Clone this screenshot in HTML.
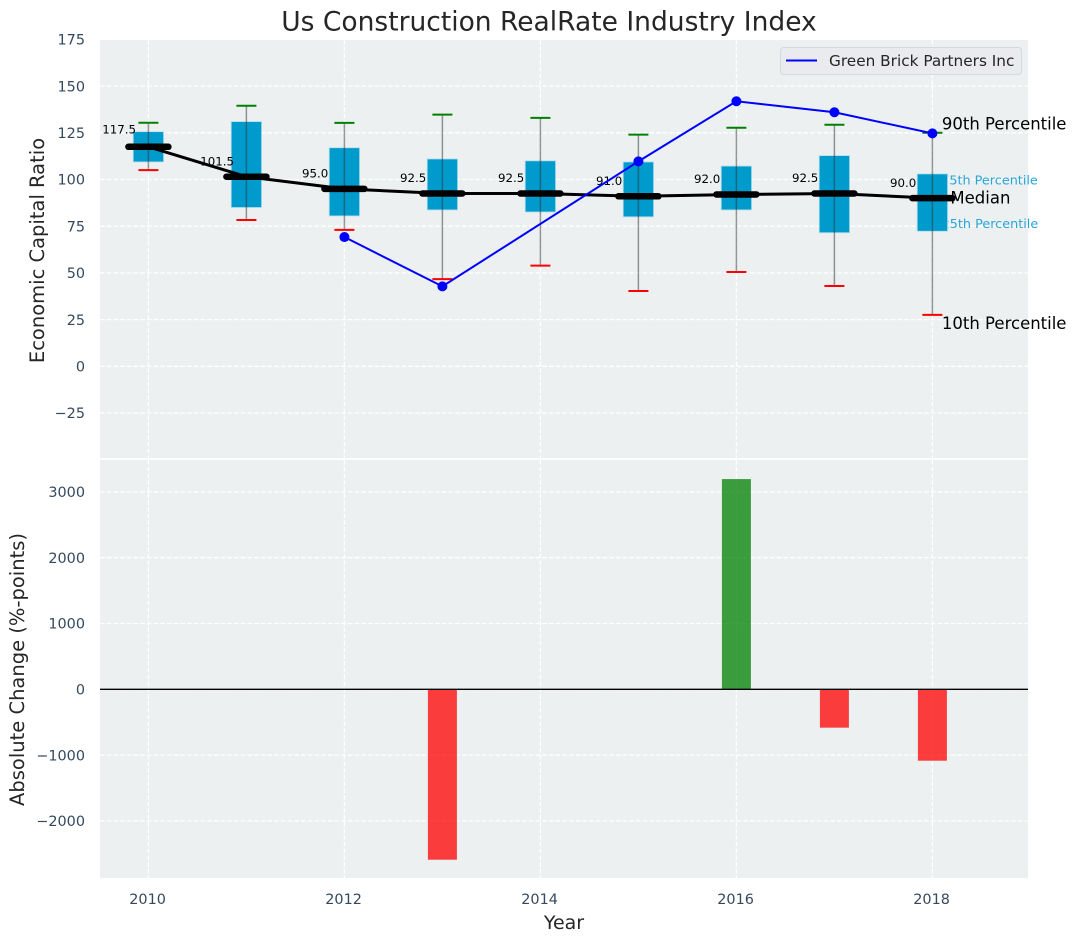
<!DOCTYPE html>
<html lang="en">
<head>
<meta charset="utf-8">
<title>Us Construction RealRate Industry Index</title>
<style>
html,body{margin:0;padding:0;background:#fff;width:1077px;height:942px;overflow:hidden}
svg{display:block;font-family:"DejaVu Sans","Liberation Sans",sans-serif}
</style>
</head>
<body>
<svg id="chart" xmlns="http://www.w3.org/2000/svg" width="1077" height="942" viewBox="0 0 1077 942">
  <rect width="1077" height="942" fill="#ffffff"/>
  <rect x="100" y="40" width="928" height="418" fill="#ecf0f1"/>
  <rect x="100" y="460" width="928" height="418" fill="#ecf0f1"/>
  <g id="grid"></g>
  <g id="bottom"></g>
  <g id="top"></g>
  <g id="ticks"></g>
  <text x="549" y="30.5" font-size="26.5" fill="#262626" text-anchor="middle">Us Construction RealRate Industry Index</text>
  <text transform="translate(44,250.5) rotate(-90)" font-size="19.5" fill="#262626" text-anchor="middle">Economic Capital Ratio</text>
  <text transform="translate(24,669.5) rotate(-90)" font-size="19.5" fill="#262626" text-anchor="middle">Absolute Change (%-points)</text>
  <text x="564" y="929" font-size="19" fill="#262626" text-anchor="middle">Year</text>
  <g>
    <rect x="780.5" y="47.5" width="241" height="27" rx="3" fill="#e9ebef" stroke="#d6d9dc" stroke-width="1"/>
    <line x1="786" y1="60.5" x2="817" y2="60.5" stroke="#0000ff" stroke-width="2"/>
    <text x="829" y="66" font-size="15.3" fill="#262626">Green Brick Partners Inc</text>
  </g>
</svg>
<script>
const years = [2010, 2011, 2012, 2013, 2014, 2015, 2016, 2017, 2018];
const p90 = [130.4, 139.5, 130.3, 134.7, 133, 124, 127.7, 129.3, 125];
const p75 = [125.6, 131, 117, 111, 110, 109.4, 107.2, 112.8, 103];
const medians = [117.5, 101.5, 95, 92.5, 92.5, 91, 92, 92.5, 90];
const p25 = [109.4, 85, 80.5, 83.7, 82.6, 80, 83.7, 71.5, 72.3];
const p10 = [105, 78.3, 73, 46.7, 53.9, 40.3, 50.5, 43, 27.5];
const company = [null, null, 69.2, 42.8, null, 109.7, 141.9, 136, 124.7];
const changes = [0, 0, 0, -2590, 0, 0, 3195, -583, -1085];
const xTicks = [2010, 2012, 2014, 2016, 2018];
const topTicks = [175, 150, 125, 100, 75, 50, 25, 0, -25];
const bottomTicks = [3000, 2000, 1000, 0, -1000, -2000];

const NS = 'http://www.w3.org/2000/svg';
const xOf = v => 148.4 + (v - 2010) * 98;
const yTop = v => 366.3 - v * 1.868;
const yBottom = v => 689.3 - v * 0.0658;

function make(parent, tag, attrs, txt) {
  const el = document.createElementNS(NS, tag);
  for (const k in attrs) el.setAttribute(k, attrs[k]);
  if (txt !== undefined) el.textContent = txt;
  parent.appendChild(el);
  return el;
}
const fmt = v => String(v).replace('-', '\u2212');

const grid = document.getElementById('grid');
const bottom = document.getElementById('bottom');
const top_ = document.getElementById('top');
const ticks = document.getElementById('ticks');
const gridStyle = {stroke: '#ffffff', 'stroke-width': 1.3, 'stroke-dasharray': '4.7 2'};

xTicks.forEach(v => {
  [[40, 458], [460, 878]].forEach(r => {
    const g = make(grid, 'line', Object.assign({x1: xOf(v), x2: xOf(v), y1: r[0], y2: r[1]}, gridStyle));
    
    
  });
  const t = make(ticks, 'text', {x: xOf(v) - 0.8, y: 904, 'font-size': 14.4, fill: '#34495e', 'text-anchor': 'middle'}, String(v));
  
  
});
topTicks.forEach(v => {
  const g = make(grid, 'line', Object.assign({x1: 100, x2: 1028, y1: yTop(v), y2: yTop(v)}, gridStyle));
  
  
  const t = make(ticks, 'text', {x: 85, y: yTop(v) + 5.2, 'font-size': 14.4, fill: '#34495e', 'text-anchor': 'end'}, fmt(v));
  
  
});
bottomTicks.forEach(v => {
  const g = make(grid, 'line', Object.assign({x1: 100, x2: 1028, y1: yBottom(v), y2: yBottom(v)}, gridStyle));
  
  
  const t = make(ticks, 'text', {x: 85, y: yBottom(v) + 5.2, 'font-size': 14.4, fill: '#34495e', 'text-anchor': 'end'}, fmt(v));
  
  
});

changes.forEach((v, i) => {
  if (!v) return;
  const y0 = yBottom(0), y1 = yBottom(v);
  const b = make(bottom, 'rect', {x: xOf(years[i]) - 14.5, width: 29, y: Math.min(y0, y1), height: Math.abs(y1 - y0), fill: v > 0 ? '#008000' : '#ff0000', opacity: 0.75});
  
  
});
const zero = make(bottom, 'line', {x1: 100, x2: 1028, y1: yBottom(0), y2: yBottom(0), stroke: '#000000', 'stroke-width': 1.3});



const last = years.length - 1;
const lx = xOf(years[last]);
const p75Label = make(top_, 'text', {x: lx + 8.8, y: yTop(p75[last]) + 10.7, 'font-size': 12.8, fill: '#2aa5d8'}, '75th Percentile');


const p25Label = make(top_, 'text', {x: lx + 9.2, y: yTop(p25[last]) - 3.4, 'font-size': 12.8, fill: '#2aa5d8'}, '25th Percentile');



years.forEach((yr, i) => {
  const x = xOf(yr);
  const box = make(top_, 'rect', {x: x - 15.2, width: 30.4, y: yTop(p75[i]), height: yTop(p25[i]) - yTop(p75[i]), fill: '#009bcd', stroke: '#b5dfee', 'stroke-width': 0.8});
  
  
  const w = make(top_, 'line', {x1: x, x2: x, y1: yTop(p90[i]), y2: yTop(p10[i]), stroke: '#333333', 'stroke-width': 1.5, opacity: 0.5});
  
  
  const capHigh = make(top_, 'line', {x1: x - 10, x2: x + 10, y1: yTop(p90[i]), y2: yTop(p90[i]), stroke: '#008000', 'stroke-width': 2});
  
  
  const capLow = make(top_, 'line', {x1: x - 10, x2: x + 10, y1: yTop(p10[i]), y2: yTop(p10[i]), stroke: '#ff0000', 'stroke-width': 2});
  
  
});

const medLine = make(top_, 'polyline', {points: years.map((yr, i) => xOf(yr) + ',' + yTop(medians[i])).join(' '), fill: 'none', stroke: '#000000', 'stroke-width': 3});



years.forEach((yr, i) => {
  const x = xOf(yr), y = yTop(medians[i]);
  const m = make(top_, 'line', {x1: x - 20, x2: x + 20, y1: y, y2: y, stroke: '#000000', 'stroke-width': 6.5, 'stroke-linecap': 'round'});
  
  
  const t = make(top_, 'text', {x: x - 29.3, y: y - (i === 0 ? 13.2 : 11.4), 'font-size': 11.8, fill: '#000000', 'text-anchor': 'middle'}, medians[i].toFixed(1));
  
  
});

const pts = years.map((yr, i) => company[i] === null ? null : [xOf(yr), yTop(company[i])]).filter(Boolean);
const compLine = make(top_, 'polyline', {points: pts.map(p => p.join(',')).join(' '), fill: 'none', stroke: '#0000ff', 'stroke-width': 2});


pts.forEach(p => {
  const c = make(top_, 'circle', {cx: p[0], cy: p[1], r: 5, fill: '#0000ff'});
  
  
});

const p90Label = make(top_, 'text', {x: lx + 9.5, y: yTop(p90[last]) - 3.5, 'font-size': 16.5, fill: '#000000'}, '90th Percentile');


const p10Label = make(top_, 'text', {x: lx + 9.5, y: yTop(p10[last]) + 14, 'font-size': 16.5, fill: '#000000'}, '10th Percentile');


const medLabel = make(top_, 'text', {x: lx + 18, y: yTop(medians[last]) + 5.5, 'font-size': 16.5, fill: '#000000'}, 'Median');


</script>
</body>
</html>
